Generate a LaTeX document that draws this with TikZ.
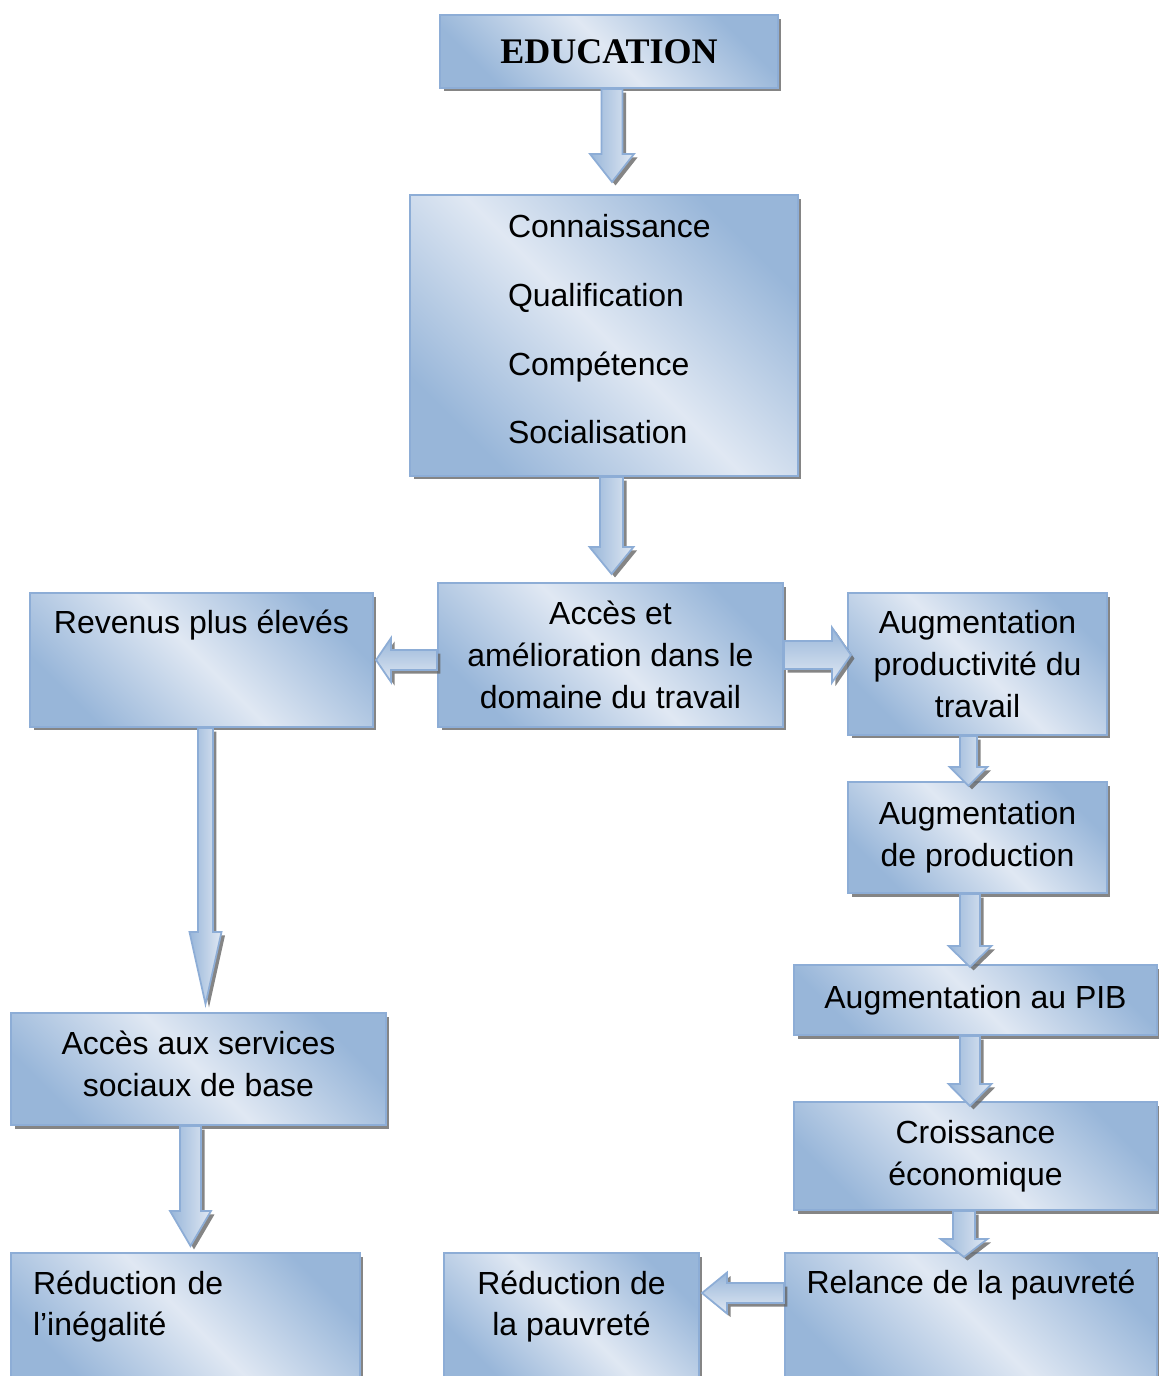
\documentclass[tikz,border=0pt]{standalone}
\usepackage{fontspec}
\setmainfont{Liberation Sans}
\newfontfamily\titrefont{Liberation Serif}
\usepackage{tikz}
\usetikzlibrary{calc,shadows,positioning}
\definecolor{bleuF}{RGB}{152,182,217}
\definecolor{bleuC}{RGB}{224,232,243}
\definecolor{bordure}{RGB}{141,173,214}
\newcommand{\corps}{\fontsize{18.2}{23.8}\selectfont}
\tikzset{ombre/.style={drop shadow={shadow xshift=0.07cm, shadow yshift=-0.07cm, fill=black!60, opacity=0.8}}}
\tikzset{boite/.style={draw=bordure, line width=1.2pt, top color=bleuF, bottom color=bleuF, middle color=bleuC, shading angle=-45, ombre, inner sep=0, align=center, font=\corps, text=black}}
\tikzset{fleche-v/.style={draw=bordure, line width=1pt, left color=bleuF, middle color=bleuC!60!white, right color=bleuC, ombre}}
\tikzset{fleche-h/.style={draw=bordure, line width=1pt, top color=bleuF, middle color=bleuC!60!white, bottom color=bleuC, ombre}}
\tikzset{tige/.store in=\tige, tete/.store in=\tete, pointe/.store in=\pointe, decal/.store in=\decal, ecart/.store in=\ecart}
\tikzset{tige=0.2cm, tete=0.44cm, pointe=0.5cm, decal=0cm, ecart=0cm}
% fleches larges d'un noeud a l'autre
\newcommand{\flechebas}[3][]{%
  \path[fleche-v,#1] let \p1=(#2.south), \p2=(#3.north) in
    (\x1+\decal-\tige,\y1) -- (\x1+\decal-\tige,\y2+\ecart+\pointe) -- (\x1+\decal-\tete,\y2+\ecart+\pointe)
    -- (\x1+\decal,\y2+\ecart) -- (\x1+\decal+\tete,\y2+\ecart+\pointe) -- (\x1+\decal+\tige,\y2+\ecart+\pointe)
    -- (\x1+\decal+\tige,\y1) -- cycle;}
\newcommand{\flechegauche}[3][]{%
  \path[fleche-h,#1] let \p1=(#2.west), \p2=(#3.east) in
    (\x1,\y1+\decal+\tige) -- (\x2+\ecart+\pointe,\y1+\decal+\tige) -- (\x2+\ecart+\pointe,\y1+\decal+\tete)
    -- (\x2+\ecart,\y1+\decal) -- (\x2+\ecart+\pointe,\y1+\decal-\tete) -- (\x2+\ecart+\pointe,\y1+\decal-\tige)
    -- (\x1,\y1+\decal-\tige) -- cycle;}
\newcommand{\flechedroite}[3][]{%
  \path[fleche-h,#1] let \p1=(#2.east), \p2=(#3.west) in
    (\x1,\y1+\decal+\tige) -- (\x2-\ecart-\pointe,\y1+\decal+\tige) -- (\x2-\ecart-\pointe,\y1+\decal+\tete)
    -- (\x2-\ecart,\y1+\decal) -- (\x2-\ecart-\pointe,\y1+\decal-\tete) -- (\x2-\ecart-\pointe,\y1+\decal-\tige)
    -- (\x1,\y1+\decal-\tige) -- cycle;}

\begin{document}
\begin{tikzpicture}[x=0.02cm, y=-0.02cm]
            \useasboundingbox (0,0) rectangle (1159,1376);

            \node[boite, minimum width=6.76cm, minimum height=1.46cm, font=\titrefont\bfseries\fontsize{20.5}{24}\selectfont] (educ) at (609,51.5) {EDUCATION};
            \node[boite, minimum width=7.76cm, minimum height=5.62cm, text width=3.84cm, align=left, text depth=4.37cm, font=\fontsize{18.2}{39.1}\selectfont] (savoirs) at (604,335.5) {Connaissance\\Qualification\\Compétence\\Socialisation};
            \node[boite, minimum width=6.9cm, minimum height=2.88cm] (acces) at (610.5,655) {Accès et\\amélioration dans le\\domaine du travail};
            \node[boite, minimum width=6.86cm, minimum height=2.68cm, text height=0.46cm, text depth=1.54cm] (revenus) at (201.5,660) {Revenus plus élevés};
            \node[boite, minimum width=5.18cm, minimum height=2.84cm] (productivite) at (977.5,664) {Augmentation\\productivité du\\travail};
            \node[boite, minimum width=5.18cm, minimum height=2.22cm] (production) at (977.5,837.5) {Augmentation\\de production};
            \node[boite, minimum width=7.26cm, minimum height=1.4cm] (pib) at (975.5,1000) {Augmentation au PIB};
            \node[boite, minimum width=7.26cm, minimum height=2.16cm] (croissance) at (975.5,1156) {Croissance\\économique};
            \node[boite, minimum width=7.44cm, minimum height=2.54cm, text height=0.46cm, text depth=1.4cm] (relance) at (971,1316.5) {Relance de la pauvreté};
            \node[boite, minimum width=5.1cm, minimum height=2.54cm, text depth=0.53cm] (redpauv) at (571.5,1316.5) {Réduction de\\la pauvreté};
            \node[boite, minimum width=7.5cm, minimum height=2.24cm, text depth=0.21cm] (services) at (198.5,1069) {Accès aux services\\sociaux de base};
            \node[boite, minimum width=6.98cm, minimum height=2.54cm, text width=6.1cm, align=left, text depth=1.37cm] (inegalite) at (185.5,1316.5) {Réduction de\\l’inégalité};

            \flechebas[decal=0.06cm, tige=0.21cm, tete=0.44cm, pointe=0.56cm, ecart=0.24cm]{educ}{savoirs}
            \flechebas[decal=0.15cm, tige=0.23cm, tete=0.44cm, pointe=0.54cm, ecart=0.16cm]{savoirs}{acces}
            \flechegauche[decal=-0.1cm, tige=0.2cm, tete=0.44cm, pointe=0.3cm, ecart=0.04cm]{acces}{revenus}
            \flechedroite[decal=0cm, tige=0.28cm, tete=0.55cm, pointe=0.38cm, ecart=-0.08cm]{acces}{productivite}
            \flechebas[decal=-0.18cm, tige=0.17cm, tete=0.38cm, pointe=0.38cm, ecart=-0.1cm]{productivite}{production}
            \flechebas[decal=-0.15cm, tige=0.2cm, tete=0.43cm, pointe=0.42cm, ecart=-0.06cm]{production}{pib}
            \flechebas[decal=-0.11cm, tige=0.2cm, tete=0.43cm, pointe=0.44cm, ecart=-0.1cm]{pib}{croissance}
            \flechebas[decal=-0.23cm, tige=0.22cm, tete=0.47cm, pointe=0.36cm, ecart=-0.1cm]{croissance}{relance}
            \flechegauche[decal=0.47cm, tige=0.2cm, tete=0.41cm, pointe=0.5cm, ecart=0.04cm]{relance}{redpauv}
            \flechebas[decal=0.08cm, tige=0.15cm, tete=0.32cm, pointe=1.44cm, ecart=0.16cm]{revenus}{services}
            \flechebas[decal=-0.16cm, tige=0.21cm, tete=0.41cm, pointe=0.7cm, ecart=0.12cm]{services}{inegalite}

        \end{tikzpicture}
\end{document}
